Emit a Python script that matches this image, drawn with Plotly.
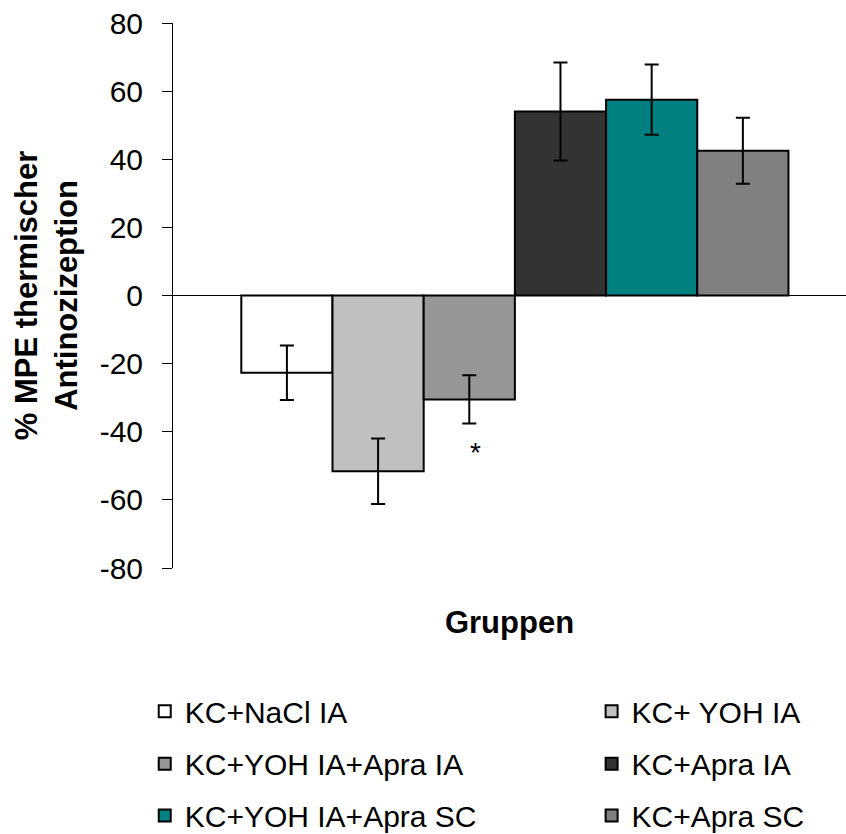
import plotly.graph_objects as go

groups = ["KC+NaCl IA", "KC+ YOH IA", "KC+YOH IA+Apra IA", "KC+Apra IA",
          "KC+YOH IA+Apra SC", "KC+Apra SC"]
means = [-22.7, -51.6, -30.5, 54.0, 57.5, 42.5]
sems = [8.0, 9.6, 7.1, 14.4, 10.3, 9.7]
colors = ["#FFFFFF", "#C0C0C0", "#969696", "#333333", "#008080", "#808080"]
y_ticks = [-80, -60, -40, -20, 0, 20, 40, 60, 80]
y_tick_labels = ["-80", "-60", "-40", "-20", "0", "20", "40", "60", "80"]
star_group = 2
star_value = -46.0

FONT = "Liberation Sans, Arial, sans-serif"
BARGAP = 0.187
legend_ids = ["legend", "legend2", "legend3", "legend4", "legend5", "legend6"]
legend_cols_x = [-0.042, 0.622]
legend_rows_y = [-0.2630, -0.3590, -0.4540]

fig = go.Figure()
for i, (g, m, s, c) in enumerate(zip(groups, means, sems, colors)):
    fig.add_trace(go.Bar(
        x=["Gruppen"], y=[m], name=g,
        marker=dict(color=c, line=dict(color="black", width=2)),
        error_y=dict(type="data", array=[s], visible=True,
                     color="black", thickness=2, width=7),
        legend=legend_ids[i],
    ))

n = len(groups)
bw = (1 - BARGAP) / n
star_x = -(1 - BARGAP) / 2 + (star_group + 0.5) * bw

fig.add_annotation(x=star_x, y=star_value, xref="x", yref="y", text="*",
                   showarrow=False, xshift=6,
                   font=dict(family=FONT, size=28, color="black"))

legend_common = dict(orientation="h", xanchor="left", yanchor="middle",
                     font=dict(family=FONT, size=30, color="black"),
                     bgcolor="rgba(0,0,0,0)")
legends = {}
for i, lid in enumerate(legend_ids):
    legends[lid] = dict(legend_common, x=legend_cols_x[i % 2],
                        y=legend_rows_y[i // 2])

fig.update_layout(
    width=846, height=834,
    margin=dict(l=173, r=0, t=23, b=266, autoexpand=False),
    paper_bgcolor="white", plot_bgcolor="white",
    barmode="group", bargap=BARGAP, bargroupgap=0,
    font=dict(family=FONT, color="black"),
    showlegend=True,
    **legends,
    xaxis=dict(range=[-0.508, 0.492], showticklabels=False, ticks="",
               showline=False, showgrid=False, zeroline=False,
               title=dict(text="<b>Gruppen</b>", standoff=43,
                          font=dict(family=FONT, size=31, color="black"))),
    yaxis=dict(range=[-80, 80], tickvals=y_ticks, ticktext=y_tick_labels,
               showgrid=False,
               showline=True, linecolor="black", linewidth=1,
               ticks="outside", ticklen=10, tickcolor="black", tickwidth=1,
               ticklabelstandoff=13,
               tickfont=dict(family=FONT, size=30, color="black"),
               zeroline=True, zerolinecolor="black", zerolinewidth=1,
               title=dict(text="<b>% MPE thermischer<br>Antinozizeption</b>",
                          standoff=12,
                          font=dict(family=FONT, size=31, color="black"))),
)

fig.write_html("out.html")
